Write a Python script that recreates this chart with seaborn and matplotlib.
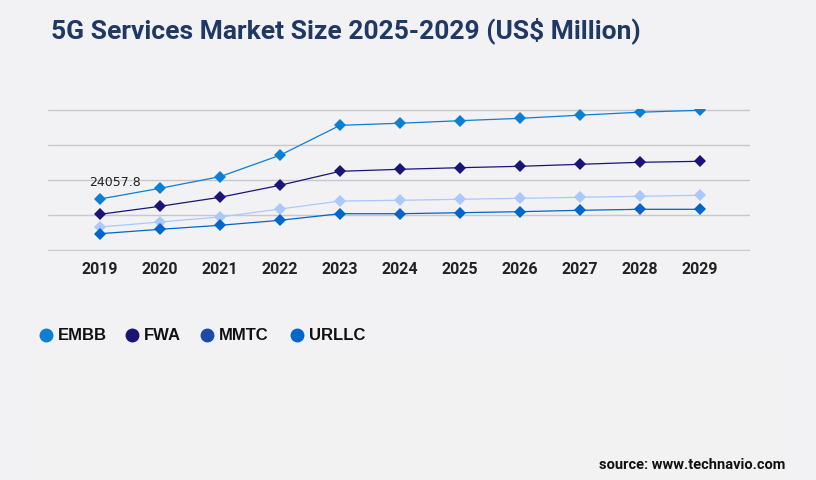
import numpy as np
import pandas as pd
import matplotlib.pyplot as plt
import seaborn as sns
from matplotlib.lines import Line2D
from matplotlib.patches import Rectangle

# --- Datos ---
years = [2019, 2020, 2021, 2022, 2023, 2024, 2025, 2026, 2027, 2028, 2029]
embb = [24057.8, 29100, 34600, 44700, 58800, 59800, 61000, 62100, 63600, 65000, 65900]
fwa = [16840, 20610, 24860, 30520, 37120, 38070, 38820, 39480, 40420, 41370, 41840]
mmtc = [10850, 13210, 15570, 19340, 23110, 23440, 23920, 24390, 24860, 25330, 25800]
urllc = [7690, 9760, 11650, 14010, 17120, 17120, 17590, 18070, 18730, 19200, 19200]

series = ['EMBB', 'FWA', 'MMTC', 'URLLC']
line_colors = ['#0a7fd4', '#1a1478', '#a9c8fb', '#0066cc']
legend_colors = ['#0a7fd4', '#1a1478', '#1c4aa8', '#0066cc']

df = pd.DataFrame({'Year': years, 'EMBB': embb, 'FWA': fwa, 'MMTC': mmtc, 'URLLC': urllc})
df_long = df.melt(id_vars='Year', var_name='Segment', value_name='Value')

# --- Estilo ---
sns.set_theme(style='white')
plt.rcParams['font.family'] = ['Roboto', 'DejaVu Sans']
bg = '#f2f2f4'

fig = plt.figure(figsize=(8.16, 4.8), dpi=100, facecolor=bg)
fig.patches.append(Rectangle((32 / 816, 0), 757 / 816, 125 / 480, transform=fig.transFigure,
                             facecolor='#f2f2f2', edgecolor='none', zorder=0))

step = 16510
pad = 400
# eje: de y=110 a y=250 px para 0..4*step, con un pequeño margen
px_per_val = 140 / (4 * step)
top_px = 110 - pad * px_per_val
h_px = 140 + 2 * pad * px_per_val
ax = fig.add_axes([48 / 816, 1 - (top_px + h_px) / 480, 702 / 816, h_px / 480])
ax.set_facecolor(bg)

sns.lineplot(data=df_long, x='Year', y='Value', hue='Segment', hue_order=series,
             palette=dict(zip(series, line_colors)), marker='D', markersize=6.5,
             markeredgewidth=0, linewidth=0.9, legend=False, ax=ax, zorder=3)

ax.set_ylim(-pad, step * 4 + pad)
ax.set_yticks(np.arange(0, step * 4 + 1, step))
ax.yaxis.grid(True, color='#c8c8cc', linewidth=1)
ax.set_axisbelow(True)
ax.set_yticklabels([])
ax.tick_params(axis='y', length=0)
ax.set_xlim(2019 - 52 / 60, 2029 + 50 / 60)
ax.set_xticks(years)
ax.set_xticklabels([str(y) for y in years], fontsize=11.5, fontweight='bold', color='#222222')
ax.tick_params(axis='x', length=0, pad=8)
ax.set_xlabel('')
ax.set_ylabel('')
for s in ax.spines.values():
    s.set_visible(False)

ax.annotate(f'{embb[0]}', (years[0], embb[0]), xytext=(-8, 9), textcoords='offset points',
            fontsize=9, color='#222222', family=['DejaVu Sans'])

# Título
fig.text(51 / 816, 1 - 31 / 480, '5G Services Market Size 2025-2029 (US$ Million)',
         fontsize=19, fontweight='bold', color='#1f3864', va='center', ha='left')

# Leyenda (manual)
marker_x = [46, 132, 207, 297]
for name, col, mx in zip(series, legend_colors, marker_x):
    fig.add_artist(Line2D([mx / 816], [1 - 335 / 480], marker='o', linestyle='', markersize=9,
                          color=col, transform=fig.transFigure))
    fig.text((mx + 12) / 816, 1 - 335 / 480, name, fontsize=12, fontweight='bold',
             color='#111111', va='center', ha='left', family=['Liberation Sans', 'DejaVu Sans'])

fig.text(785 / 816, 1 - 465 / 480, 'source: www.technavio.com', fontsize=10.5, fontweight='bold',
         color='#111111', ha='right', va='center')

fig.savefig('out.png', dpi=100, facecolor=bg)
